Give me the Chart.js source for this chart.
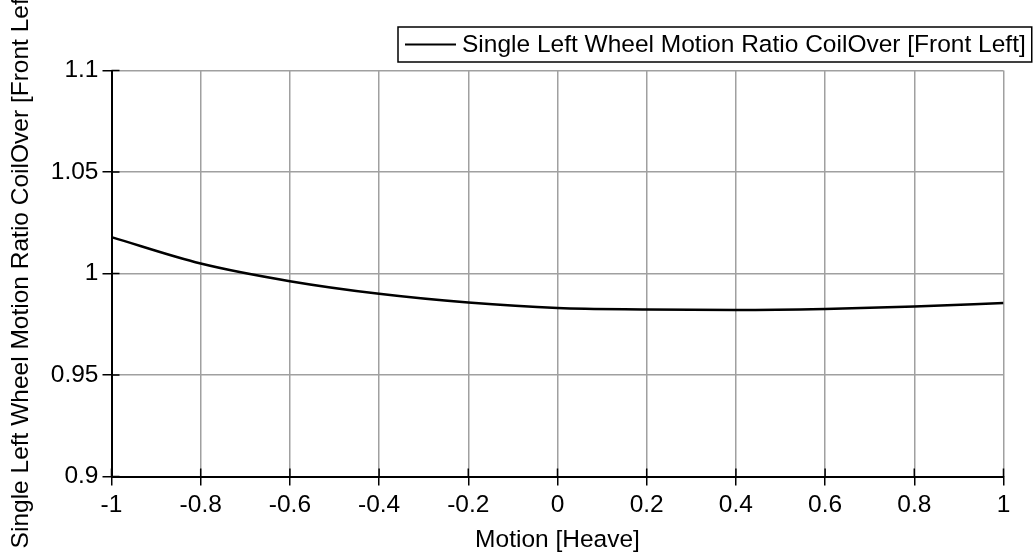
<!DOCTYPE html>
<html>
<head>
<meta charset="utf-8">
<script src="https://cdn.jsdelivr.net/npm/chart.js@4.4.1/dist/chart.umd.min.js"></script>
<style>
  html, body { margin: 0; padding: 0; background: #fff; }
  #wrap { width: 1035px; height: 555px; }
</style>
</head>
<body>
<div id="wrap"><canvas id="c" width="1035" height="555"></canvas></div>
<script>
// Motion ratio of the front-left coilover against heave travel
const seriesLabel = 'Single Left Wheel Motion Ratio CoilOver [Front Left]';
const xTitle = 'Motion [Heave]';
const yTitle = 'Single Left Wheel Motion Ratio CoilOver [Front Left]';
const heave = [-1, -0.8, -0.6, -0.4, -0.2, 0, 0.2, 0.4, 0.6, 0.8, 1];
const motionRatio = [1.0179, 1.0049, 0.9962, 0.9900, 0.9857, 0.9830, 0.9823, 0.9820, 0.9825, 0.9837, 0.9855];
const xTicks = [-1, -0.8, -0.6, -0.4, -0.2, 0, 0.2, 0.4, 0.6, 0.8, 1];
const yTicks = [0.9, 0.95, 1, 1.05, 1.1];

const FONT = 'Liberation Sans, Arial, sans-serif';
const TEXT_SIZE = 24.5;

// Short black marks on the inner side of both axes
const innerTicks = {
  id: 'innerTicks',
  afterDatasetsDraw(chart) {
    const { ctx, chartArea: a, scales: { x, y } } = chart;
    ctx.save();
    ctx.strokeStyle = '#000';
    ctx.lineWidth = 1.5;
    ctx.beginPath();
    xTicks.forEach(v => {
      const px = x.getPixelForValue(v);
      ctx.moveTo(px, a.bottom);
      ctx.lineTo(px, a.bottom - 8);
    });
    yTicks.forEach(v => {
      const py = y.getPixelForValue(v);
      ctx.moveTo(a.left, py);
      ctx.lineTo(a.left + 8, py);
    });
    ctx.stroke();
    ctx.restore();
  }
};

// Rotated y-axis title, sitting a little above the plot's vertical centre
const yAxisTitle = {
  id: 'yAxisTitle',
  afterDraw(chart) {
    const { ctx, chartArea: a } = chart;
    ctx.save();
    ctx.font = TEXT_SIZE + 'px ' + FONT;
    ctx.fillStyle = '#000';
    ctx.textAlign = 'center';
    ctx.textBaseline = 'middle';
    ctx.translate(21.5, (a.top + a.bottom) / 2 - 7);
    ctx.rotate(-Math.PI / 2);
    ctx.fillText(yTitle, 0, 0);
    ctx.restore();
  }
};

// Boxed legend in the top-right corner
const boxLegend = {
  id: 'boxLegend',
  afterDraw(chart) {
    const { ctx } = chart;
    const ds = chart.data.datasets[0];
    ctx.save();
    ctx.font = TEXT_SIZE + 'px ' + FONT;
    const tw = ctx.measureText(ds.label).width;
    const bx = 398, by = 27, bh = 35;
    const bw = 64 + tw + 6;
    ctx.fillStyle = '#fff';
    ctx.fillRect(bx, by, bw, bh);
    ctx.strokeStyle = '#000';
    ctx.lineWidth = 1.5;
    ctx.strokeRect(bx, by, bw, bh);
    ctx.beginPath();
    ctx.strokeStyle = ds.borderColor;
    ctx.lineWidth = 2;
    ctx.moveTo(bx + 7, by + bh / 2);
    ctx.lineTo(bx + 58, by + bh / 2);
    ctx.stroke();
    ctx.fillStyle = '#000';
    ctx.textBaseline = 'middle';
    ctx.fillText(ds.label, bx + 64, by + bh / 2 + 1);
    ctx.restore();
  }
};

new Chart(document.getElementById('c'), {
  type: 'line',
  data: {
    datasets: [{
      label: seriesLabel,
      data: heave.map((h, i) => ({ x: h, y: motionRatio[i] })),
      borderColor: '#000',
      borderWidth: 2.5,
      pointRadius: 0,
      cubicInterpolationMode: 'monotone',
      fill: false
    }]
  },
  options: {
    responsive: false,
    animation: false,
    devicePixelRatio: 1,
    layout: { padding: { top: 70.5, right: 31.5, left: 0, bottom: 0 } },
    plugins: { legend: { display: false }, tooltip: { enabled: false } },
    scales: {
      x: {
        type: 'linear',
        min: -1, max: 1,
        afterBuildTicks: s => { s.ticks = xTicks.map(v => ({ value: v })); },
        afterFit: s => { s.height = 78.5; },
        ticks: {
          color: '#000',
          font: { family: FONT, size: TEXT_SIZE },
          padding: 5,
          maxRotation: 0,
          autoSkip: false,
          callback: v => String(v)
        },
        grid: { color: '#a0a0a0', lineWidth: 1.5, tickLength: 9, tickColor: '#000' },
        border: { color: '#000', width: 2 },
        title: {
          display: true, text: xTitle, color: '#000',
          font: { family: FONT, size: TEXT_SIZE },
          padding: { top: 0, bottom: 0 }
        }
      },
      y: {
        type: 'linear',
        min: 0.9, max: 1.1,
        afterBuildTicks: s => { s.ticks = yTicks.map(v => ({ value: v })); },
        afterFit: s => { s.width = 111.5; },
        ticks: {
          color: '#000',
          font: { family: FONT, size: TEXT_SIZE },
          padding: 4,
          autoSkip: false,
          callback: v => String(v)
        },
        grid: { color: '#a0a0a0', lineWidth: 1.5, tickLength: 9, tickColor: '#000' },
        border: { color: '#000', width: 2 },
        title: { display: false }
      }
    }
  },
  plugins: [innerTicks, yAxisTitle, boxLegend]
});
</script>
</body>
</html>
